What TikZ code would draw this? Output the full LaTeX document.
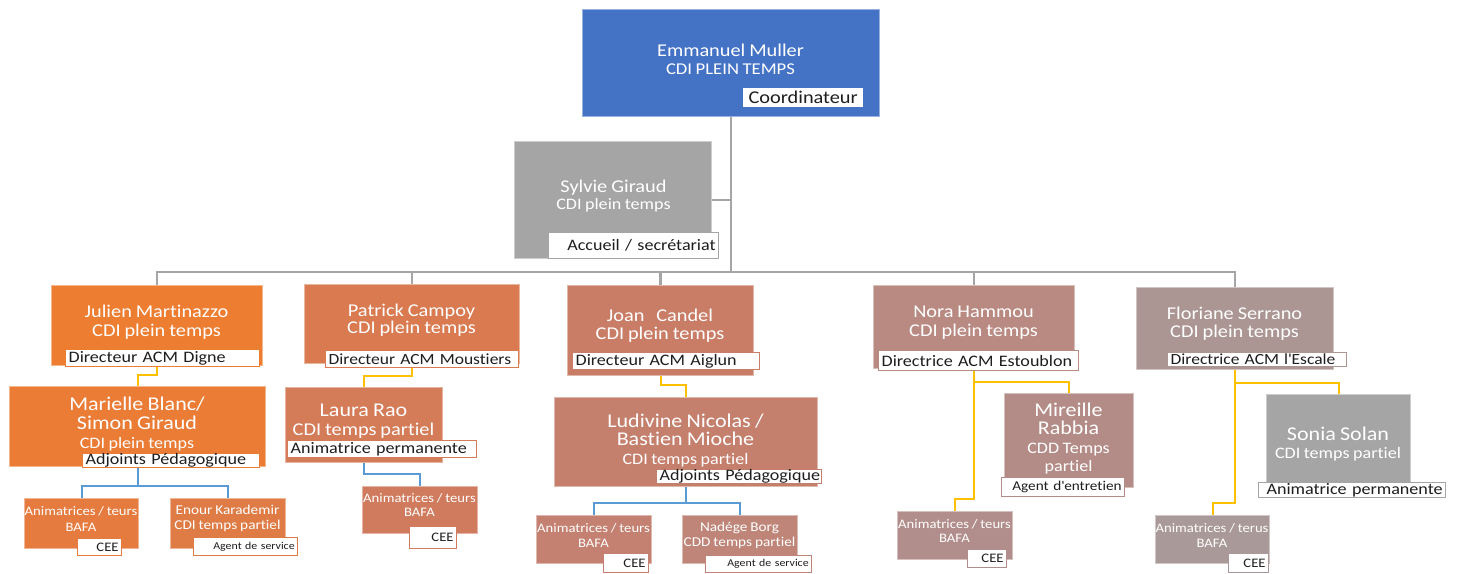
\documentclass[tikz,border=0pt]{standalone}
\usepackage{fontspec}
\setmainfont{Carlito}[FakeStretch=1.13, WordSpace=0.85, Ligatures={TeX,NoCommon}]
\usetikzlibrary{calc}
\pgfdeclarelayer{bg}
\pgfsetlayers{bg,main}
\newcommand\FS[2]{\fontsize{#1pt}{#2pt}\selectfont}
\definecolor{cEmm}{HTML}{4472C4}
\definecolor{cGrey}{HTML}{A5A5A5}
\definecolor{cJul}{HTML}{ED7D31}
\definecolor{cMar}{HTML}{EA7C36}
\definecolor{cMcA}{HTML}{E57B3E}
\definecolor{cMcB}{HTML}{DF7C46}
\definecolor{cPat}{HTML}{D97A50}
\definecolor{cLau}{HTML}{D47B58}
\definecolor{cLcA}{HTML}{D07B5E}
\definecolor{cJoa}{HTML}{C97D67}
\definecolor{cLud}{HTML}{C57F6D}
\definecolor{cUcA}{HTML}{C48070}
\definecolor{cUcB}{HTML}{BE8578}
\definecolor{cNor}{HTML}{B98A82}
\definecolor{cMir}{HTML}{B48C87}
\definecolor{cNcA}{HTML}{B18E8B}
\definecolor{cFlo}{HTML}{AB9694}
\definecolor{cFcA}{HTML}{A99998}
\definecolor{cYel}{HTML}{FFC000}
\definecolor{cBlu}{HTML}{5B9BD5}
\definecolor{cLabTxt}{HTML}{1E1E1E}
\tikzset{
  box/.style={fill=#1, draw=#1!55!white, line width=1.2pt, inner sep=0pt, anchor=north west},
  lab/.style={fill=white, draw=#1, line width=1.3pt, inner xsep=3pt, inner ysep=0pt, anchor=north west, text=cLabTxt},
  txt/.style={text=white, align=center, inner sep=0pt},
  gline/.style={draw=cGrey, line width=2.5pt},
  yline/.style={draw=cYel, line width=2pt},
  bline/.style={draw=cBlu, line width=2pt}
}
\begin{document}
\begin{tikzpicture}[x=1pt,y=-1pt]
\begin{pgfonlayer}{bg}
\useasboundingbox (0,0) rectangle (1457,572);
\fill[white] (0,0) rectangle (1457,572);
\end{pgfonlayer}

% ---- top
\node[box=cEmm, minimum width=297pt, minimum height=107pt] (emm) at (582,9) {};
\node[txt, font=\FS{18}{18}] (emm-t) at (730.5,59) {Emmanuel Muller\\{\FS{16.5}{18}CDI PLEIN TEMPS}};
\node[lab=white, minimum height=18pt, text width=113pt, align=center, font=\FS{18}{18}] (emm-l) at (743,88) {\mbox{Coordinateur}};

\node[box=cGrey, minimum width=197pt, minimum height=117pt] (syl) at (514,141) {};
\node[txt, font=\FS{18}{17}] (syl-t) at (613.5,196.5) {Sylvie Giraud\\{\FS{16}{17}CDI plein temps}};
\node[lab=cGrey, minimum height=26pt, text width=164pt, align=right, font=\FS{16}{17}] (syl-l) at (548,232) {\mbox{Accueil / secrétariat}};

% ---- level 2
\node[box=cJul, minimum width=211pt, minimum height=80pt] (jul) at (51,285) {};
\node[txt, font=\FS{18}{19}] (jul-t) at (156.5,322.5) {Julien Martinazzo\\CDI plein temps};
\node[lab=cJul, minimum height=17pt, text width=188pt, align=left, font=\FS{16}{17}] (jul-l) at (65,349) {\mbox{Directeur ACM Digne}};

\node[box=cPat, minimum width=215pt, minimum height=79pt] (pat) at (304,284) {};
\node[txt, font=\FS{18}{17}] (pat-t) at (411.5,320.5) {Patrick Campoy\\CDI plein temps};
\node[lab=cPat, minimum height=17pt, text width=187pt, align=left, font=\FS{15.5}{17}] (pat-l) at (325,350) {\mbox{Directeur ACM Moustiers}};

\node[box=cJoa, minimum width=186pt, minimum height=90pt] (joa) at (567,285) {};
\node[txt, font=\FS{18}{18}] (joa-t) at (660,326) {Joan\hspace{11.7pt}Candel\\CDI plein temps};
\node[lab=cJoa, minimum height=17pt, text width=181pt, align=left, font=\FS{16}{17}] (joa-l) at (572,352) {\mbox{Directeur ACM Aiglun}};

\node[box=cNor, minimum width=201pt, minimum height=83pt] (nor) at (873,285) {};
\node[txt, font=\FS{18}{19}] (nor-t) at (973.5,322.5) {Nora Hammou\\CDI plein temps};
\node[lab=cNor, minimum height=20pt, text width=194pt, align=left, font=\FS{16}{17}] (nor-l) at (878,350) {\mbox{Directrice ACM Estoublon}};

\node[box=cFlo, minimum width=197pt, minimum height=82pt] (flo) at (1136,287) {};
\node[txt, font=\FS{18}{18}] (flo-t) at (1234.5,324) {Floriane Serrano\\CDI plein temps};
\node[lab=cFlo, minimum height=14pt, text width=173pt, align=left, font=\FS{15.5}{16}] (flo-l) at (1167,352) {\mbox{Directrice ACM l\textquotesingle Escale}};

% ---- level 3
\node[box=cMar, minimum width=256pt, minimum height=80pt] (mar) at (9,386) {};
\node[txt, font=\FS{19.5}{19}] (mar-t) at (137,424) {Marielle Blanc/\\Simon Giraud\\{\FS{16}{19}CDI plein temps}};
\node[lab=cMar, minimum height=12pt, text width=171pt, align=left, font=\FS{16}{16}] (mar-l) at (82,453) {\mbox{Adjoints Pédagogique}};

\node[box=cLau, minimum width=157pt, minimum height=75pt] (lau) at (285,387) {};
\node[txt, font=\FS{19.5}{19}] (lau-t) at (363.5,421.5) {Laura Rao\\{\FS{18}{19}CDI temps partiel}};
\node[lab=cLau, minimum height=17pt, text width=183pt, align=left, font=\FS{16}{17}] (lau-l) at (287,440) {\mbox{Animatrice permanente}};

\node[box=cLud, minimum width=263pt, minimum height=89pt] (lud) at (554,397) {};
\node[txt, font=\FS{19.5}{18.5}] (lud-t) at (685.5,440.5) {Ludivine Nicolas /\\Bastien Mioche\\{\FS{16}{18.5}CDI temps partiel}};
\node[lab=cLud, minimum height=14pt, text width=159pt, align=left, font=\FS{16}{16}] (lud-l) at (656,469) {\mbox{Adjoints Pédagogique}};

\node[box=cMir, minimum width=129pt, minimum height=94pt] (mir) at (1004,393) {};
\node[txt, font=\FS{19.5}{18.5}] (mir-t) at (1068.5,438.5) {Mireille\\Rabbia\\{\FS{16}{18}CDD Temps}\\{\FS{16}{18}partiel}};
\node[lab=cMir, minimum height=19pt, text width=117pt, align=right, font=\FS{13.5}{15}] (mir-l) at (1001,477) {\mbox{Agent d\textquotesingle entretien}};

\node[box=cGrey, minimum width=144pt, minimum height=103pt] (son) at (1266,394) {};
\node[txt, font=\FS{19.5}{18}] (son-t) at (1338,444) {Sonia Solan\\{\FS{16}{18}CDI temps partiel}};
\node[lab=cGrey, minimum height=15pt, text width=181pt, align=right, font=\FS{16}{16}] (son-l) at (1258,482) {\mbox{Animatrice permanente}};

% ---- level 4
\node[box=cMcA, minimum width=114pt, minimum height=50pt] (mc1) at (24,498) {};
\node[txt, font=\FS{13}{16}] (mc1-t) at (81,519) {Animatrices / teurs\\BAFA};
\node[lab=cMcA, minimum height=17pt, text width=38pt, align=right, font=\FS{13}{14}] (mc1-l) at (77,538) {\mbox{CEE}};

\node[box=cMcB, minimum width=115pt, minimum height=50pt] (mc2) at (170,498) {};
\node[txt, font=\FS{13.5}{15}] (mc2-t) at (227.5,518.5) {Enour Karademir\\CDI temps partiel};
\node[lab=cMcB, minimum height=18pt, text width=98pt, align=right, font=\FS{10.5}{12}] (mc2-l) at (193,537) {\mbox{Agent de service}};

\node[box=cLcA, minimum width=115pt, minimum height=47pt] (lc1) at (362,486) {};
\node[txt, font=\FS{13}{14}] (lc1-t) at (419.5,505) {Animatrices / teurs\\BAFA};
\node[lab=cLcA, minimum height=22pt, text width=41pt, align=right, font=\FS{13}{14}] (lc1-l) at (409,526) {\mbox{CEE}};

\node[box=cUcA, minimum width=115pt, minimum height=48pt] (uc1) at (536,515) {};
\node[txt, font=\FS{13}{15}] (uc1-t) at (593.5,535.5) {Animatrices / teurs\\BAFA};
\node[lab=cUcA, minimum height=19pt, text width=39pt, align=right, font=\FS{13}{14}] (uc1-l) at (603,553) {\mbox{CEE}};

\node[box=cUcB, minimum width=115pt, minimum height=48pt] (uc2) at (682,515) {};
\node[txt, font=\FS{13.5}{15}] (uc2-t) at (739.5,535.5) {Nadége Borg\\CDD temps partiel};
\node[lab=cUcB, minimum height=17pt, text width=100pt, align=right, font=\FS{10.5}{12}] (uc2-l) at (705,555) {\mbox{Agent de service}};

\node[box=cNcA, minimum width=115pt, minimum height=48pt] (nc1) at (897,511) {};
\node[txt, font=\FS{13}{14}] (nc1-t) at (954.5,531) {Animatrices / teurs\\BAFA};
\node[lab=cNcA, minimum height=18pt, text width=33pt, align=right, font=\FS{13}{14}] (nc1-l) at (967,549) {\mbox{CEE}};

\node[box=cFcA, minimum width=114pt, minimum height=48pt] (fc1) at (1155,515) {};
\node[txt, font=\FS{13}{15}] (fc1-t) at (1212,535.5) {Animatrices / terus\\BAFA};
\node[lab=cFcA, minimum height=19pt, text width=34pt, align=right, font=\FS{13}{14}] (fc1-l) at (1228,553) {\mbox{CEE}};

% ---- connectors
\begin{pgfonlayer}{bg}
\coordinate (bus) at ($(jul.north)+(0,-13)$);
\draw[gline] (emm.south) -- (emm.south |- bus);
\draw[gline] (syl.east) -- (syl.east -| emm.south);
\draw[gline] (jul.north) |- (bus -| flo.north) -- (flo.north);
\draw[gline] (pat.north) -- (pat.north |- bus);
\draw[gline] (joa.north) -- (joa.north |- bus);
\draw[gline] (nor.north) -- (nor.north |- bus);

\draw[yline] (jul.south) -- ++(0,9) -| (mar.north);
\draw[yline] (pat.south) -- ++(0,12) -| (lau.north);
\draw[yline] (joa.south) -- ++(0,9) -| (lud.north);
\draw[yline] (nor.south) -- ++(0,130) -| (nc1.north);
\draw[yline] (nor.south) -- ++(0,13) -| (mir.north);
\draw[yline] (flo.south) -- ++(0,133) -| (fc1.north);
\draw[yline] (flo.south) -- ++(0,13) -| (son.north);

\draw[bline] (mar.south) -- ++(0,19) -| (mc1.north);
\draw[bline] (mar.south) -- ++(0,19) -| (mc2.north);
\draw[bline] (lau.south) -- ++(0,11) -| (lc1.north);
\draw[bline] (lud.south) -- ++(0,16) -| (uc1.north);
\draw[bline] (lud.south) -- ++(0,16) -| (uc2.north);
\end{pgfonlayer}
\end{tikzpicture}
\end{document}
